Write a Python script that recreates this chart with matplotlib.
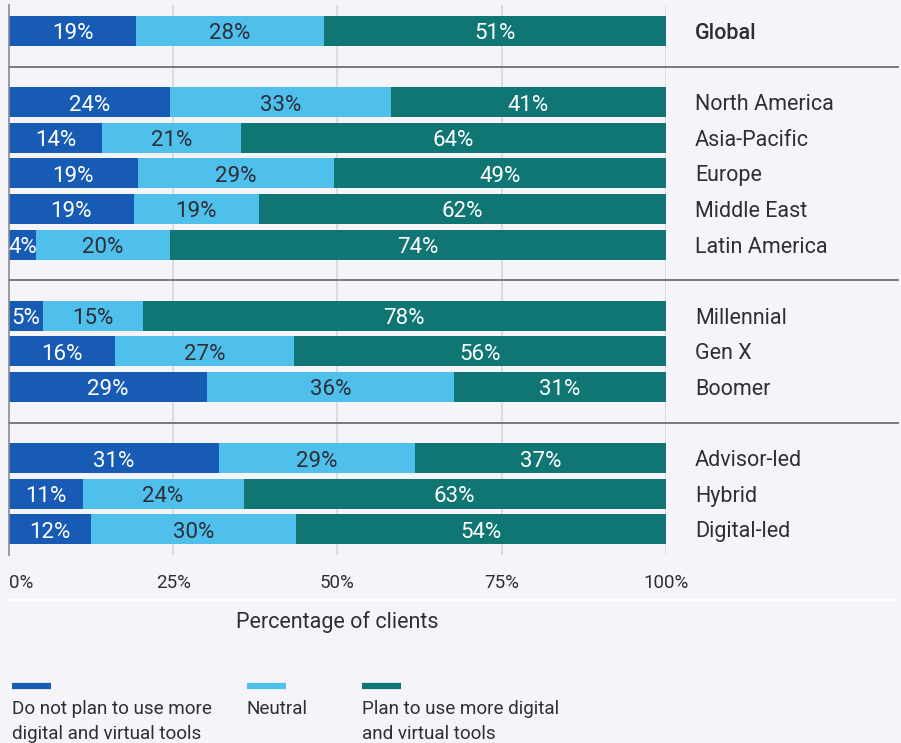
import matplotlib
matplotlib.use("Agg")
import matplotlib.pyplot as plt
from matplotlib.lines import Line2D
import numpy as np

plt.rcParams['font.family'] = ['Roboto', 'DejaVu Sans']

categories = ["Global", "North America", "Asia-Pacific", "Europe", "Middle East",
              "Latin America", "Millennial", "Gen X", "Boomer",
              "Advisor-led", "Hybrid", "Digital-led"]
row_pos = [0, 2, 3, 4, 5, 6, 8, 9, 10, 12, 13, 14]
separators = [1, 7, 11]

not_plan = [19, 24, 14, 19, 19, 4, 5, 16, 29, 31, 11, 12]
neutral = [28, 33, 21, 29, 19, 20, 15, 27, 36, 29, 24, 30]
plan_more = [51, 41, 64, 49, 62, 74, 78, 56, 31, 37, 63, 54]

series_names = ["Do not plan to use more\ndigital and virtual tools",
                "Neutral",
                "Plan to use more digital\nand virtual tools"]
colors = ["#175bb5", "#4fc0eb", "#0f7673"]
text_colors = ["white", "#2e2e38", "white"]

xticks = [0, 25, 50, 75, 100]
xtick_labels = ["0%", "25%", "50%", "75%", "100%"]

BG = "#f5f5f9"
TXT = "#2e2e38"

W, H = 901, 743
fig = plt.figure(figsize=(W / 100, H / 100), dpi=100, facecolor=BG)
ax_left, ax_right = 9 / W, 665.7 / W
ax_top, ax_bot = 5 / H, 555 / H
ax = fig.add_axes([ax_left, 1 - ax_bot, ax_right - ax_left, ax_bot - ax_top])
ax.set_facecolor(BG)

u0, du = 31, 35.6
ax.set_ylim((555 - u0) / du, (5 - u0) / du)
ax.set_xlim(0, 100)

data = np.array([not_plan, neutral, plan_more], dtype=float)
totals = data.sum(axis=0)
shares = data / totals * 100

# gridlines
for xt in xticks[1:]:
    ax.axvline(xt, color="#d6d6de", lw=1.2, zorder=0)

left = np.zeros(len(categories))
for i in range(3):
    ax.barh(row_pos, shares[i], left=left, height=0.84, color=colors[i],
            edgecolor="none", zorder=2)
    for y, l, w, v in zip(row_pos, left, shares[i], data[i]):
        ax.text(l + w / 2, y + 0.08, f"{int(v)}%", ha="center", va="center",
                color=text_colors[i], fontsize=16, zorder=3)
    left += shares[i]

# separators
span = (898 - 9) / (665.7 - 9)
for s in separators:
    ax.axhline(s, xmin=0, xmax=span, color="#6e6e78", lw=1.3, clip_on=False, zorder=1)

for sp in ["top", "right", "bottom"]:
    ax.spines[sp].set_visible(False)
ax.spines["left"].set_color("#8a8a94")
ax.spines["left"].set_linewidth(1.2)

ax.set_xticks(xticks)
ax.set_xticklabels(xtick_labels, fontsize=13.5, color=TXT)
ax.tick_params(axis="x", length=0, pad=13.5)
ax.get_xticklabels()[0].set_horizontalalignment("left")

ax.yaxis.tick_right()
ax.set_yticks(row_pos)
ax.set_yticklabels(categories, fontsize=15.5, color=TXT)
ax.tick_params(axis="y", length=0, pad=21)
ax.get_yticklabels()[0].set_fontweight("medium")

ax.set_xlabel("Percentage of clients", fontsize=15.5, color=TXT, labelpad=14)

# faint white line
fig.add_artist(Line2D([9 / W, 898 / W], [1 - 600 / H, 1 - 600 / H], color="white", lw=1.2))

# legend
leg_x = [12, 247, 362]
for x, c, name in zip(leg_x, colors, series_names):
    fig.add_artist(Line2D([x / W, (x + 39) / W], [1 - 686 / H, 1 - 686 / H],
                          color=c, lw=4.5, solid_capstyle="butt"))
    fig.text(x / W, 1 - 700 / H, name, ha="left", va="top", fontsize=13.6,
             color=TXT, linespacing=1.5)

fig.savefig("out.png", dpi=100, facecolor=BG)
